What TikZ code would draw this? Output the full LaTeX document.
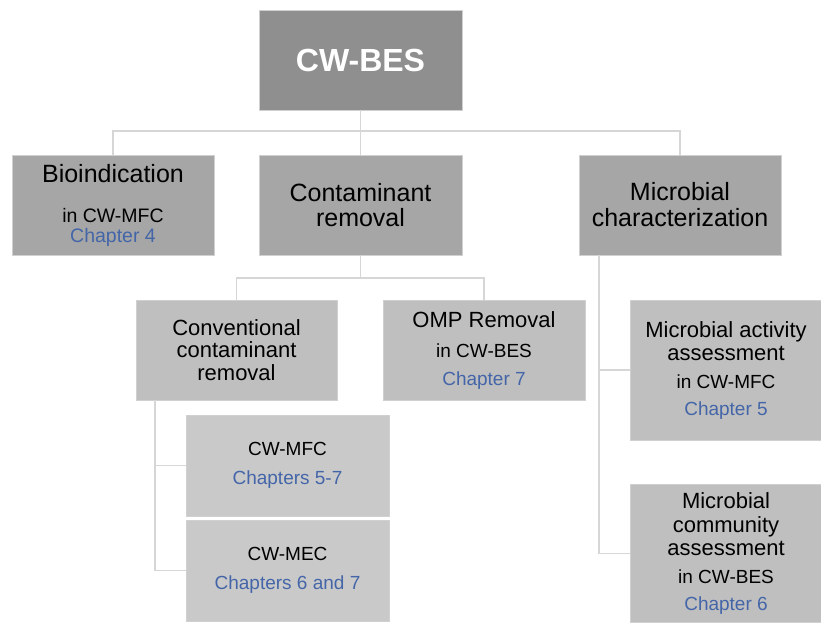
\documentclass[tikz,border=0pt]{standalone}
\usepackage{fontspec}
\setmainfont{Liberation Sans}
\definecolor{ctop}{HTML}{8F8F8F}
\definecolor{clev2}{HTML}{A6A6A6}
\definecolor{clev3}{HTML}{BFBFBF}
\definecolor{clev4}{HTML}{C9C9C9}
\definecolor{cline}{HTML}{D6D6D6}
\definecolor{cedge}{HTML}{D0D0D0}
\definecolor{chap}{HTML}{4466A8}
\newcommand{\chp}[1]{\textcolor{chap}{#1}}
\tikzset{
  box/.style={rectangle, draw=cedge, line width=0.6pt, inner sep=0pt, align=center, text=black},
  conn/.style={draw=cline, line width=1.6pt},
}
\begin{document}
\begin{tikzpicture}[x=1pt,y=-1pt]
\useasboundingbox (0,0) rectangle (821,623);
\fill[white] (0,0) rectangle (821,623);

% connectors (drawn first)
\coordinate (dummy) at (0,0);

% boxes
\node[box, fill=ctop, minimum width=203pt, minimum height=100pt, text=white,
      font=\bfseries\fontsize{32}{34}\selectfont] (top) at (360.5,60) {CW-BES};

\node[box, fill=clev2, minimum width=202pt, minimum height=100pt,
      font=\fontsize{19.5}{20}\selectfont] (bio) at (113,205)
  {{\fontsize{25}{26}\selectfont Bioindication}\\[20pt] in CW-MFC\\ \chp{Chapter 4}};

\node[box, fill=clev2, minimum width=203pt, minimum height=100pt,
      font=\fontsize{25}{25.5}\selectfont] (cont) at (360.5,205)
  {Contaminant\\removal};

\node[box, fill=clev2, minimum width=202pt, minimum height=100pt,
      font=\fontsize{25}{26}\selectfont] (micro) at (680,205)
  {Microbial\\characterization};

\node[box, fill=clev3, minimum width=201pt, minimum height=100pt,
      font=\fontsize{22}{22.5}\selectfont] (conv) at (236.5,350)
  {Conventional\\contaminant\\removal};

\node[box, fill=clev3, minimum width=202pt, minimum height=100pt,
      font=\fontsize{19}{28}\selectfont] (omp) at (484,350)
  {{\fontsize{22}{22}\selectfont OMP Removal}\\[2pt] in CW-BES\\ \chp{Chapter 7}};

\node[box, fill=clev4, minimum width=203pt, minimum height=101pt,
      font=\fontsize{19}{29}\selectfont] (mfc) at (287.5,465.5)
  {CW-MFC\\ \chp{Chapters 5-7}};

\node[box, fill=clev4, minimum width=203pt, minimum height=101pt,
      font=\fontsize{19}{28.5}\selectfont] (mec) at (287.5,570.5)
  {CW-MEC\\ \chp{Chapters 6 and 7}};

\node[box, fill=clev3, minimum width=192pt, minimum height=140pt,
      font=\fontsize{22}{23}\selectfont] (act) at (726,370)
  {Microbial activity\\[0pt] assessment\\[5pt] {\fontsize{19}{19}\selectfont in CW-MFC}\\[4pt] {\fontsize{19}{19}\selectfont\chp{Chapter 5}}};

\node[box, fill=clev3, minimum width=192pt, minimum height=138pt,
      font=\fontsize{22}{23.5}\selectfont] (com) at (726,553.5)
  {Microbial\\ community\\ assessment\\[4.5pt] {\fontsize{19}{19}\selectfont in CW-BES}\\[3.5pt] {\fontsize{19}{19}\selectfont\chp{Chapter 6}}};

% connectors
\begin{scope}[on background layer/.style={}]
\draw[conn] (top.south) -- (cont.north);
\draw[conn] (bio.north) -- ++(0,-24) -| (micro.north);
\draw[conn] (cont.south) -- ++(0,23);
\draw[conn] (conv.north) -- ++(0,-22) -| (omp.north);
\draw[conn] ([xshift=19pt]conv.south west) |- (mfc.west);
\draw[conn] ([xshift=19pt]conv.south west) |- (mec.west);
\draw[conn] ([xshift=20pt]micro.south west) |- (act.west);
\draw[conn] ([xshift=20pt]micro.south west) |- (com.west);
\end{scope}
\end{tikzpicture}
\end{document}
